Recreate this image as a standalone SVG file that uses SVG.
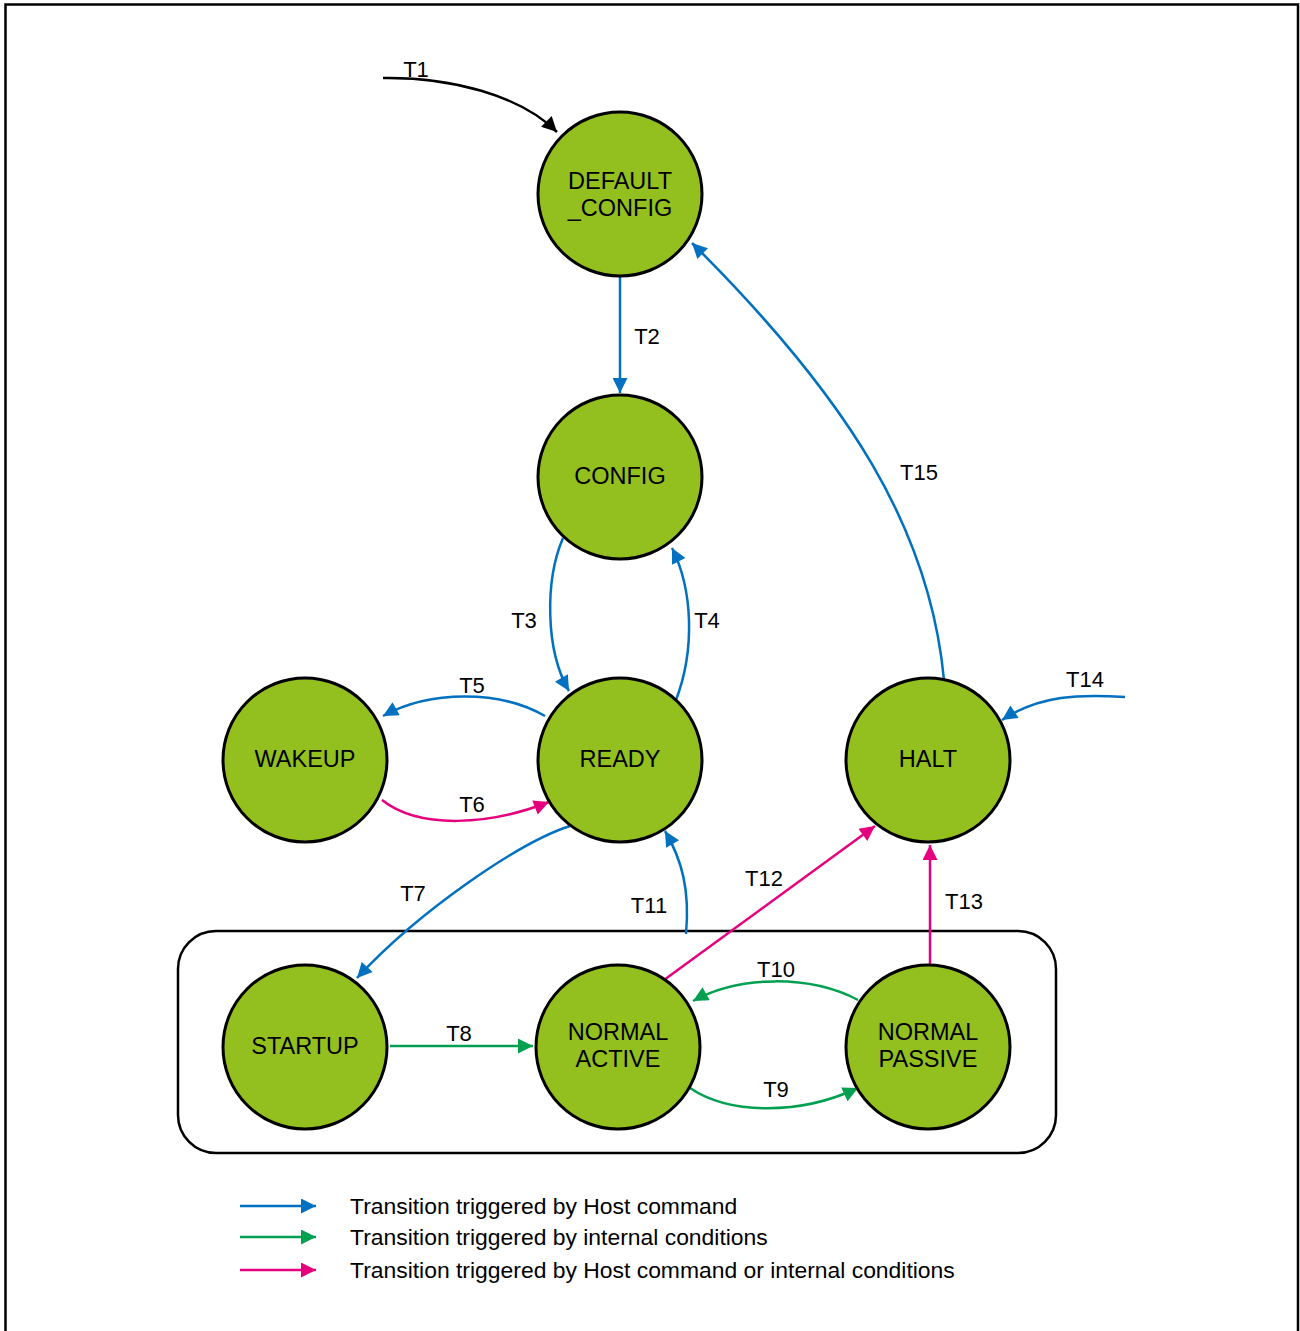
<svg xmlns="http://www.w3.org/2000/svg" width="1300" height="1331" viewBox="0 0 1300 1331">
<style>
.node{fill:#93C01F;stroke:#000;stroke-width:3}
.nt{font-family:"Liberation Sans",Arial,sans-serif;font-size:23.5px;fill:#000;text-anchor:middle}
.lb{font-family:"Liberation Sans",Arial,sans-serif;font-size:22px;fill:#000;text-anchor:middle}
.lg{font-family:"Liberation Sans",Arial,sans-serif;font-size:22.9px;fill:#000}
.c{fill:none;stroke-width:2.5}
.b{stroke:#0070C0}.g{stroke:#00A050}.m{stroke:#E6007E}.k{stroke:#000}
</style>
<defs>
<marker id="ab" viewBox="0 0 10 10" refX="10" refY="5" markerUnits="userSpaceOnUse" markerWidth="18" markerHeight="15" orient="auto"><path d="M0,0L10,5L0,10z" fill="#0070C0"/></marker>
<marker id="ag" viewBox="0 0 10 10" refX="10" refY="5" markerUnits="userSpaceOnUse" markerWidth="18" markerHeight="15" orient="auto"><path d="M0,0L10,5L0,10z" fill="#00A050"/></marker>
<marker id="am" viewBox="0 0 10 10" refX="10" refY="5" markerUnits="userSpaceOnUse" markerWidth="18" markerHeight="15" orient="auto"><path d="M0,0L10,5L0,10z" fill="#E6007E"/></marker>
<marker id="ak" viewBox="0 0 10 10" refX="10" refY="5" markerUnits="userSpaceOnUse" markerWidth="18" markerHeight="15" orient="auto"><path d="M0,0L10,5L0,10z" fill="#000"/></marker>
</defs>
<rect x="0" y="0" width="1300" height="1331" fill="#fff"/>
<path d="M5.5,1335V4.5H1298V1335" fill="none" stroke="#000" stroke-width="2.5"/>
<rect id="group-box" x="178" y="931" width="878" height="222" rx="38" ry="38" fill="none" stroke="#000" stroke-width="2.5"/>
<g id="connectors">
<path class="c k" d="M383,78C450,77 520,95 557,132" marker-end="url(#ak)"/>
<path class="c b" d="M620,276V393" marker-end="url(#ab)"/>
<path class="c b" d="M563,538C545,580 545,650 569,691" marker-end="url(#ab)"/>
<path class="c b" d="M676,700C695,650 693,590 672,548" marker-end="url(#ab)"/>
<path class="c b" d="M545,716C500,690 430,690 383,716" marker-end="url(#ab)"/>
<path class="c m" d="M382,800C420,830 490,825 549,802" marker-end="url(#am)"/>
<path class="c b" d="M570,826C520,842 420,910 357,978" marker-end="url(#ab)"/>
<path class="c g" d="M390,1046H533" marker-end="url(#ag)"/>
<path class="c g" d="M690,1088C730,1115 800,1115 858,1088" marker-end="url(#ag)"/>
<path class="c g" d="M858,1000C810,975 740,975 693,1001" marker-end="url(#ag)"/>
<path class="c b" d="M686,934C690,890 682,860 665,831" marker-end="url(#ab)"/>
<path class="c m" d="M664,980L875,826" marker-end="url(#am)"/>
<path class="c m" d="M930,967V845" marker-end="url(#am)"/>
<path class="c b" d="M1125,697C1080,694 1040,695 1002,720" marker-end="url(#ab)"/>
<path class="c b" d="M944,680C930,530 850,400 692,243" marker-end="url(#ab)"/>
<text class="lb" x="416" y="77">T1</text>
<text class="lb" x="647" y="344">T2</text>
<text class="lb" x="524" y="628">T3</text>
<text class="lb" x="707" y="628">T4</text>
<text class="lb" x="472" y="693">T5</text>
<text class="lb" x="472" y="812">T6</text>
<text class="lb" x="413" y="901">T7</text>
<text class="lb" x="459" y="1041">T8</text>
<text class="lb" x="776" y="1097">T9</text>
<text class="lb" x="776" y="977">T10</text>
<text class="lb" x="649" y="913">T11</text>
<text class="lb" x="764" y="886">T12</text>
<text class="lb" x="964" y="909">T13</text>
<text class="lb" x="1085" y="687">T14</text>
<text class="lb" x="919" y="480">T15</text>
</g>
<g id="default-config"><circle class="node" cx="620" cy="194" r="82"/><text class="nt" x="620" y="189">DEFAULT</text><text class="nt" x="620" y="216">_CONFIG</text></g>
<g id="config"><circle class="node" cx="620" cy="477" r="82"/><text class="nt" x="620" y="484">CONFIG</text></g>
<g id="wakeup"><circle class="node" cx="305" cy="760" r="82"/><text class="nt" x="305" y="767">WAKEUP</text></g>
<g id="ready"><circle class="node" cx="620" cy="760" r="82"/><text class="nt" x="620" y="767">READY</text></g>
<g id="halt"><circle class="node" cx="928" cy="760" r="82"/><text class="nt" x="928" y="767">HALT</text></g>
<g id="startup"><circle class="node" cx="305" cy="1047" r="82"/><text class="nt" x="305" y="1054">STARTUP</text></g>
<g id="normal-active"><circle class="node" cx="618" cy="1047" r="82"/><text class="nt" x="618" y="1040">NORMAL</text><text class="nt" x="618" y="1067">ACTIVE</text></g>
<g id="normal-passive"><circle class="node" cx="928" cy="1047" r="82"/><text class="nt" x="928" y="1040">NORMAL</text><text class="nt" x="928" y="1067">PASSIVE</text></g>
<g id="legend">
<path class="c b" d="M240,1206H316" marker-end="url(#ab)"/>
<path class="c g" d="M240,1237H316" marker-end="url(#ag)"/>
<path class="c m" d="M240,1270H316" marker-end="url(#am)"/>
<text class="lg" x="350" y="1214">Transition triggered by Host command</text>
<text class="lg" x="350" y="1245">Transition triggered by internal conditions</text>
<text class="lg" x="350" y="1278">Transition triggered by Host command or internal conditions</text>
</g>
</svg>
